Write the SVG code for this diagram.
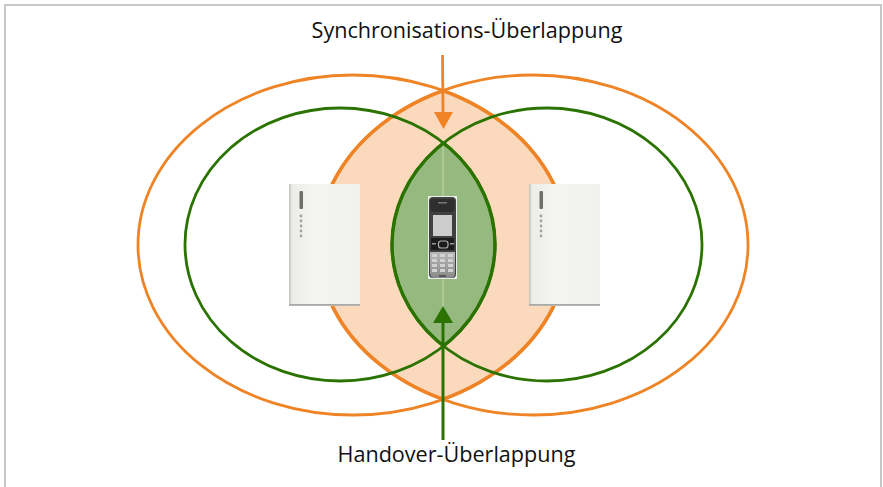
<svg xmlns="http://www.w3.org/2000/svg" width="883" height="487" viewBox="0 0 883 487">
<style>
.o{fill:none;stroke:#EF8427;stroke-width:2.800}
.ol{fill:none;stroke:#EF8427;stroke-width:3.600}
.g{fill:none;stroke:#2B7300;stroke-width:2.800}
.gl{fill:none;stroke:#2B7300;stroke-width:3.400}
.t{font-family:"Open Sans","Noto Sans",sans-serif;font-size:21.600px;fill:#111;text-anchor:middle}
.led{fill:#a2a29e}
.key{fill:#d2d2d2}
.dk{fill:#1c1c1c}
</style>
<defs>
<clipPath id="col"><ellipse cx="353" cy="245" rx="215" ry="170"/></clipPath>
<clipPath id="cor"><ellipse cx="533" cy="245" rx="215" ry="170"/></clipPath>
<clipPath id="cgl"><ellipse cx="340" cy="244.500" rx="155" ry="136.500"/></clipPath>
<clipPath id="cgr"><ellipse cx="547" cy="244.500" rx="155" ry="136.500"/></clipPath>
<filter id="soft" x="-5%" y="-5%" width="110%" height="110%"><feGaussianBlur stdDeviation="0.600"/></filter>
<linearGradient id="base" x1="0" y1="0" x2="1" y2="0"><stop offset="0" stop-color="#bdbdb9"/><stop offset=".04" stop-color="#ecece8"/><stop offset=".35" stop-color="#f4f4f1"/><stop offset="1" stop-color="#f1f1ee"/></linearGradient>
<linearGradient id="keys" x1="0" y1="0" x2="0" y2="1"><stop offset="0" stop-color="#b8b8b8"/><stop offset="1" stop-color="#8a8a8a"/></linearGradient>
<g id="basestation">
<rect x="0" y="0" width="71" height="122" fill="url(#base)"/>
<g filter="url(#soft)">
<rect x="0" y="120" width="71" height="1.800" fill="#a9a9a5"/>
<rect x="10.500" y="7" width="3.500" height="18" rx="1.200" fill="#6f6f69"/>
<circle class="led" cx="12" cy="32" r="1.400"/><circle class="led" cx="12" cy="37" r="1.400"/><circle class="led" cx="12" cy="42" r="1.400"/><circle class="led" cx="12" cy="47" r="1.400"/><circle class="led" cx="12" cy="52" r="1.400"/>
</g>
</g>
</defs>
<path d="M5 487V5H881V487" fill="#fff" stroke="#c8c8c8" stroke-width="2"/>
<g id="overlap-areas">
<ellipse cx="533" cy="245" rx="215" ry="170" fill="#FBD9BD" clip-path="url(#col)"/>
<ellipse cx="547" cy="244.500" rx="155" ry="136.500" fill="#96B97F" clip-path="url(#cgl)"/>
<line x1="443" y1="145" x2="443" y2="345" stroke="#c4d6b4" stroke-width="1"/>
</g>
<g id="range-orange-left"><ellipse class="o" cx="353" cy="245" rx="215" ry="170"/><ellipse class="ol" cx="353" cy="245" rx="215" ry="170" clip-path="url(#cor)"/></g>
<g id="range-orange-right"><ellipse class="o" cx="533" cy="245" rx="215" ry="170"/><ellipse class="ol" cx="533" cy="245" rx="215" ry="170" clip-path="url(#col)"/></g>
<g id="range-green-left"><ellipse class="g" cx="340" cy="244.500" rx="155" ry="136.500"/><ellipse class="gl" cx="340" cy="244.500" rx="155" ry="136.500" clip-path="url(#cgr)"/></g>
<g id="range-green-right"><ellipse class="g" cx="547" cy="244.500" rx="155" ry="136.500"/><ellipse class="gl" cx="547" cy="244.500" rx="155" ry="136.500" clip-path="url(#cgl)"/></g>
<g id="base-left"><use href="#basestation" x="289" y="184"/></g>
<g id="base-right"><use href="#basestation" x="529" y="184"/></g>
<g id="handset">
<rect x="428" y="196" width="29" height="83" fill="#eeeeee"/>
<g filter="url(#soft)">
<rect x="429" y="197" width="27" height="81" rx="4" fill="#3f3f3f"/>
<rect x="430.500" y="199" width="24" height="13" rx="3" fill="#2e2e2e"/>
<rect x="438" y="202" width="9" height="1.500" fill="#777"/>
<rect x="433" y="215" width="19" height="21" fill="#cdcdcd"/>
<rect x="431" y="238" width="23" height="12" class="dk"/>
<rect x="438.500" y="241" width="9.500" height="7" rx="2.500" fill="none" stroke="#b0b0b0" stroke-width="1.200"/>
<rect x="432" y="243" width="4" height="1.500" fill="#999"/><rect x="450" y="243" width="4" height="1.500" fill="#999"/>
<path d="M430 252H455V273Q455 278 450 278H435Q430 278 430 273Z" fill="url(#keys)"/>
<rect class="key" x="432" y="254" width="5" height="3"/><rect class="key" x="440" y="254" width="5" height="3"/><rect class="key" x="448" y="254" width="5" height="3"/>
<rect class="key" x="432" y="259" width="5" height="3"/><rect class="key" x="440" y="259" width="5" height="3"/><rect class="key" x="448" y="259" width="5" height="3"/>
<rect class="key" x="432" y="264" width="5" height="3"/><rect class="key" x="440" y="264" width="5" height="3"/><rect class="key" x="448" y="264" width="5" height="3"/>
<rect class="key" x="432" y="269" width="5" height="3"/><rect class="key" x="440" y="269" width="5" height="3"/><rect class="key" x="448" y="269" width="5" height="3"/>
<rect x="439" y="275" width="7" height="2" fill="#555"/>
</g>
</g>
<g id="connectors">
<line x1="442.500" y1="55" x2="443" y2="112" stroke="#EF8427" stroke-width="2.800"/>
<polygon points="434,112 453,112 443.500,129" fill="#EF8427"/>
<line x1="443" y1="322" x2="443" y2="440" stroke="#2B7300" stroke-width="3"/>
<polygon points="433,323 453,323 443,306" fill="#2B7300"/>
</g>
<g id="label-sync"><text class="t" x="467" y="38">Synchronisations-Überlappung</text></g>
<g id="label-handover"><text class="t" x="456.500" y="462">Handover-Überlappung</text></g>
</svg>
